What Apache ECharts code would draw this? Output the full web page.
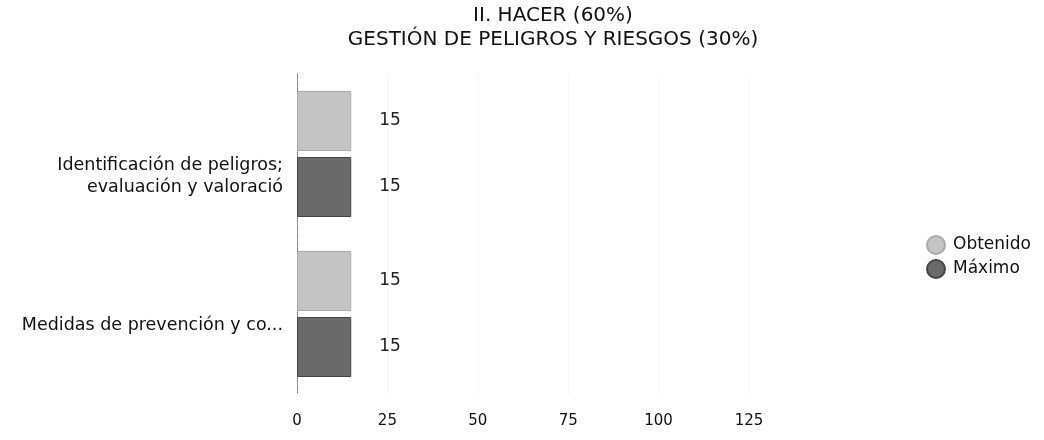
<!DOCTYPE html>
<html>
<head>
    <meta charset="utf-8"/>
    <script src="https://cdn.jsdelivr.net/npm/echarts@6/dist/echarts.min.js"></script>
    <style>
        body { margin: 0; background: #fff; }
        #main { width: 1044px; height: 440px; }
    </style>
</head>
<body>
<div id="main"></div>
<script type="text/javascript">
    // datos del gráfico
    var categorias = ['Identificación de peligros;\nevaluación y valoració', 'Medidas de prevención y co...'];
    var obtenido = [15, 15];
    var maximo = [15, 15];
    var ticks = [0, 25, 50, 75, 100, 125];

    var myChart = echarts.init(document.getElementById('main'));

    var option = {
        backgroundColor: '#fff',
        animation: false,
        textStyle: { fontFamily: 'DejaVu Sans, Arial, sans-serif' },
        title: {
            text: 'II. HACER (60%)\nGESTIÓN DE PELIGROS Y RIESGOS (30%)',
            left: 548,
            textAlign: 'center',
            top: -1,
            textStyle: { fontSize: 20, fontWeight: 'normal', color: '#111', lineHeight: 24 }
        },
        legend: {
            orient: 'vertical',
            left: 921,
            top: 230,
            itemGap: 4,
            icon: 'circle',
            itemWidth: 18,
            itemHeight: 18,
            textStyle: { fontSize: 17, color: '#111', padding: [0, 0, 0, 3] },
            data: ['Obtenido', 'Máximo']
        },
        grid: { left: 297, top: 74, width: 452, height: 320 },
        xAxis: {
            type: 'value',
            min: 0,
            max: 125,
            interval: 25,
            axisLine: { show: false },
            axisTick: { show: false },
            splitLine: { show: true, lineStyle: { color: '#efefef', type: 'dotted' } },
            axisLabel: {
                fontSize: 15, color: '#111', margin: 20,
                customValues: ticks
            }
        },
        yAxis: {
            type: 'category',
            inverse: true,
            data: categorias,
            axisLine: { show: true, lineStyle: { color: '#777', type: 'dotted', width: 1 } },
            axisTick: { show: false },
            axisLabel: {
                fontSize: 17.5, color: '#111', margin: 14, lineHeight: 22, align: 'right',
                verticalAlign: 'top'
            }
        },
        series: [{
            name: 'Obtenido',
            type: 'bar',
            data: obtenido,
            barWidth: 60,
            barGap: '10%',
            itemStyle: { color: '#c4c4c4', borderColor: '#aaa', borderWidth: 1 },
            label: { show: true, position: 'right', fontSize: 17, color: '#222', distance: 28 }
        }, {
            name: 'Máximo',
            type: 'bar',
            data: maximo,
            barWidth: 60,
            itemStyle: { color: '#6a6a6a', borderColor: '#444', borderWidth: 1 },
            label: { show: true, position: 'right', fontSize: 17, color: '#222', distance: 28 }
        }]
    };
    myChart.setOption(option);
</script>
</body>
</html>
